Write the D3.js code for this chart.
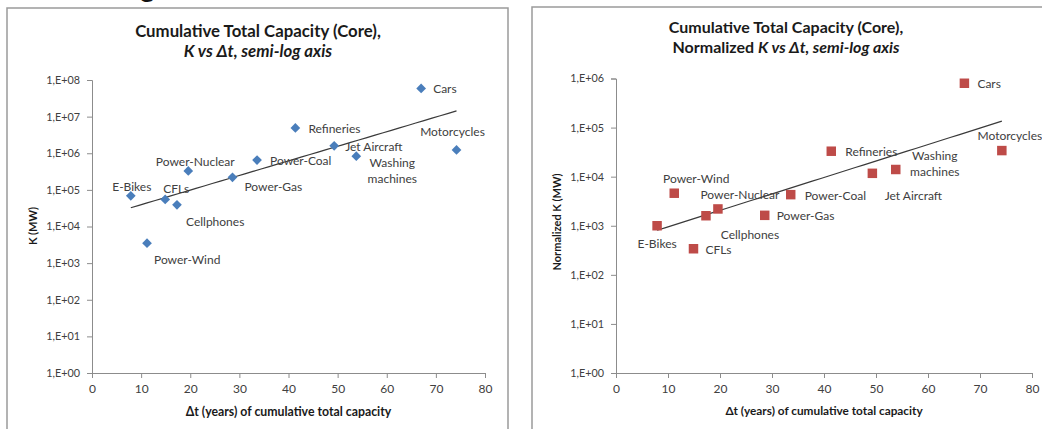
<!DOCTYPE html>
<html>
<head>
<meta charset="utf-8">
<script src="https://cdn.jsdelivr.net/npm/d3@7"></script>
<style>
  html, body { margin: 0; padding: 0; background: #fff; }
  svg { display: block; }
  .tick text { font-family: Lato, "Open Sans", sans-serif; fill: #404040; }
</style>
</head>
<body>
<svg id="chart" width="1042" height="429"></svg>
<script>
// Technologies shown in both panels
const categories = ["Cars", "Refineries", "Jet Aircraft", "Washing machines", "Motorcycles",
  "Power-Coal", "Power-Gas", "Power-Nuclear", "E-Bikes", "CFLs", "Cellphones", "Power-Wind"];

// Δt (years) of cumulative total capacity
const deltaT = [67.0, 41.4, 49.3, 53.8, 74.2, 33.6, 28.6, 19.6, 7.9, 14.9, 17.3, 11.2];

// Cumulative total capacity K (MW)
const capacityK = [5.9e7, 4.9e6, 1.6e6, 8.3e5, 1.23e6, 6.5e5, 2.2e5, 3.3e5, 6.9e4, 5.5e4, 3.9e4, 3.5e3];

// Normalized K (MW)
const normalizedK = [8.0e5, 3.3e4, 1.17e4, 1.4e4, 3.4e4, 4.3e3, 1.63e3, 2.2e3, 1.0e3, 3.4e2, 1.6e3, 4.6e3];

// Axis ticks
const xTicks = [0, 10, 20, 30, 40, 50, 60, 70, 80];
const yTicksLeft = [1e0, 1e1, 1e2, 1e3, 1e4, 1e5, 1e6, 1e7, 1e8];
const yTicksRight = [1e0, 1e1, 1e2, 1e3, 1e4, 1e5, 1e6];

// Label placement around each marker: [dx, dy, anchor]
const labelPlaceLeft = [
  [12, 0, "start"], [13, 0, "start"], [11, 0, "start"], [36, 6, "middle"], [-4, -19, "middle"],
  [13, 0, "start"], [12, 9, "start"], [7, -10, "middle"], [1, -10, "middle"], [-2, -11, "start"],
  [9, 16, "start"], [7, 16, "start"]
];
const labelPlaceRight = [
  [13, 0, "start"], [14, 0, "start"], [41, 22, "middle"], [39, -14, "middle"], [8, -16, "middle"],
  [14, 0, "start"], [12, 0, "start"], [22, -15, "middle"], [0, 17, "middle"], [12, 0, "start"],
  [44, 18, "middle"], [22, -15, "middle"]
];

const FONT = 'Lato, "Open Sans", sans-serif';
const svg = d3.select("#chart");

// Heading fragment from the page above the charts
svg.append("text").attr("x", 140).attr("y", -3)
  .attr("font-family", FONT).attr("font-weight", "bold").attr("font-size", 28)
  .attr("fill", "#111").text("g");

function expLabel(d) {
  const e = Math.round(Math.log10(d));
  return "1,E+" + String(e).padStart(2, "0");
}

// Least-squares fit of log10(y) against x (exponential trend)
function expFit(xs, ys) {
  const ly = ys.map(v => Math.log10(v));
  const mx = d3.mean(xs), my = d3.mean(ly);
  let sxy = 0, sxx = 0;
  xs.forEach((x, i) => { sxy += (x - mx) * (ly[i] - my); sxx += (x - mx) * (x - mx); });
  const b = sxy / sxx, a = my - b * mx;
  return x => Math.pow(10, a + b * x);
}

function drawPanel(p) {
  const g = svg.append("g");

  // frame
  g.append("rect").attr("x", p.frame[0]).attr("y", p.frame[1])
    .attr("width", p.frame[2]).attr("height", p.frame[3])
    .attr("fill", "#fff").attr("stroke", "#9a9a9a").attr("stroke-width", 1.5);

  // title
  const t = g.append("text").attr("x", p.titleX).attr("font-family", FONT)
    .attr("font-weight", "bold").attr("font-size", p.titleSize).attr("fill", "#1a1a1a")
    .attr("text-anchor", "middle");
  t.append("tspan").attr("x", p.titleX).attr("y", p.titleY).text("Cumulative Total Capacity (Core),");
  const l2 = t.append("tspan").attr("x", p.titleX).attr("y", p.titleY + 19.5);
  p.subtitle.forEach(s => l2.append("tspan").attr("font-style", s[1] ? "italic" : "normal").text(s[0]));

  const x = d3.scaleLinear().domain([0, 80]).range(p.xRange);
  const y = d3.scaleLog().domain(p.yDomain).range(p.yRange);

  // axes
  const xa = g.append("g").attr("transform", `translate(0,${p.yRange[0]})`)
    .call(d3.axisBottom(x).tickValues(xTicks).tickSize(5).tickPadding(6).tickFormat(d3.format("d")));
  const ya = g.append("g").attr("transform", `translate(${p.xRange[0]},0)`)
    .call(d3.axisLeft(y).tickValues(p.yTicks).tickSize(5).tickPadding(7).tickFormat(expLabel));
  [xa, ya].forEach(a => {
    a.select(".domain").attr("stroke", "#8c8c8c");
    a.selectAll(".tick line").attr("stroke", "#8c8c8c");
    a.selectAll(".tick text").attr("font-size", 12).attr("fill", "#404040");
  });
  ya.selectAll(".tick text").attr("font-size", 10.8);

  // axis titles
  g.append("text").attr("x", (p.xRange[0] + p.xRange[1]) / 2).attr("y", p.xTitleY)
    .attr("text-anchor", "middle").attr("font-family", FONT).attr("font-weight", "bold")
    .attr("font-size", p.axisTitleSize).attr("fill", "#1a1a1a")
    .text("Δt (years) of cumulative total capacity");
  g.append("text").attr("transform", `translate(${p.yTitleX},${p.yTitleY}) rotate(-90)`)
    .attr("text-anchor", "middle").attr("font-family", FONT).attr("font-weight", "bold")
    .attr("font-size", 11).attr("fill", "#1a1a1a").text(p.yTitle);

  // trend line
  const fit = expFit(deltaT, p.values);
  const xExt = d3.extent(deltaT);
  const steps = d3.range(0, 41).map(i => xExt[0] + (xExt[1] - xExt[0]) * i / 40);
  g.append("path").datum(steps)
    .attr("d", d3.line().x(d => x(d)).y(d => y(fit(d))))
    .attr("fill", "none").attr("stroke", "#3a3a3a").attr("stroke-width", 1.2);

  // markers
  const pts = categories.map((c, i) => ({ c, x: deltaT[i], y: p.values[i], place: p.place[i] }));
  g.selectAll(".pt").data(pts).join("path").attr("class", "pt")
    .attr("transform", d => `translate(${x(d.x)},${y(d.y)})`)
    .attr("d", d3.symbol().type(p.symbol).size(p.symbolSize))
    .attr("fill", p.color);

  // labels
  pts.forEach(d => {
    const [dx, dy, anchor] = d.place;
    const words = d.c === "Washing machines" ? ["Washing", "machines"] : [d.c];
    const lt = g.append("text").attr("font-family", FONT).attr("font-size", 12)
      .attr("fill", "#404040").attr("text-anchor", anchor).attr("dominant-baseline", "central");
    words.forEach((w, k) => lt.append("tspan")
      .attr("x", x(d.x) + dx).attr("y", y(d.y) + dy + k * 15.5).text(w));
  });
}

drawPanel({
  frame: [7, 8, 501, 440],
  titleX: 258, titleY: 37, titleSize: 16.8,
  subtitle: [["K vs Δt, semi-log axis", true]],
  xRange: [92, 485], yRange: [373, 80], yDomain: [1e0, 1e8], yTicks: yTicksLeft,
  xTitleY: 416, axisTitleSize: 12.3, yTitleX: 37, yTitleY: 226, yTitle: "K (MW)",
  values: capacityK, place: labelPlaceLeft,
  symbol: d3.symbolDiamond2, symbolSize: 60, color: "#4a7ebb"
});

drawPanel({
  frame: [532, 7, 520, 440],
  titleX: 786, titleY: 33, titleSize: 16,
  subtitle: [["Normalized ", false], ["K vs Δt, semi-log axis", true]],
  xRange: [616, 1032], yRange: [373, 78.5], yDomain: [1e0, 1e6], yTicks: yTicksRight,
  xTitleY: 415, axisTitleSize: 11.8, yTitleX: 561, yTitleY: 222, yTitle: "Normalized K (MW)",
  values: normalizedK, place: labelPlaceRight,
  symbol: d3.symbolSquare, symbolSize: 90, color: "#be4b48"
});
</script>
</body>
</html>
